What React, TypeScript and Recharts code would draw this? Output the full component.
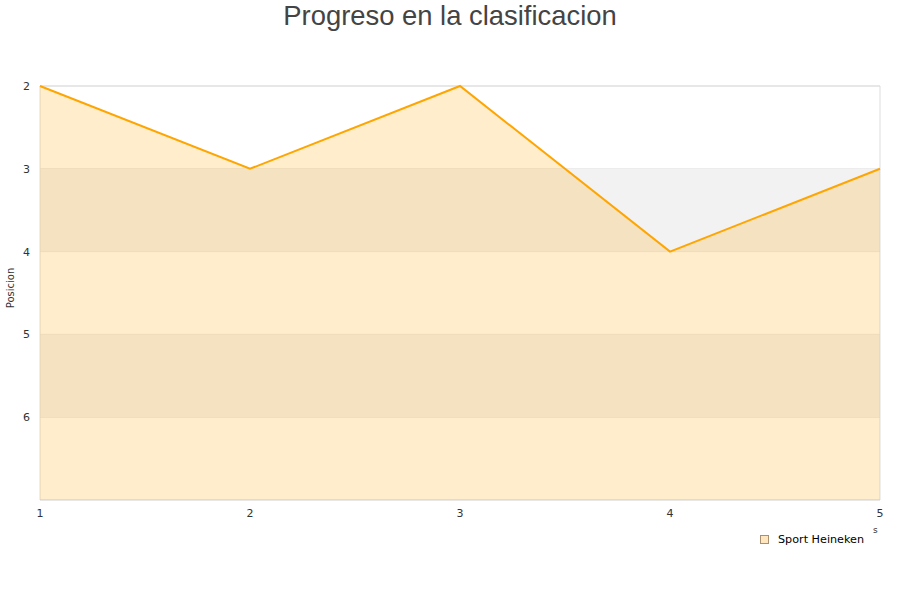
import React from 'react';
import { ComposedChart, Area, XAxis, YAxis, CartesianGrid, ReferenceArea } from 'recharts';

const jornadas = [1, 2, 3, 4, 5];
const posiciones = [2, 3, 2, 4, 3];
const yTicks = [2, 3, 4, 5, 6];
const bandas: [number, number][] = [[3, 4], [5, 6]];

const data = jornadas.map((j, i) => ({ jornada: j, pos: posiciones[i] }));

const tickFont = { fontFamily: 'DejaVu Sans', fontSize: 11, fill: '#333' };

export default function App() {
  return (
    <div style={{ position: 'absolute', left: 0, top: 0, width: 900, height: 600, background: '#fff' }}>
      <div style={{ position: 'absolute', left: 0, top: 0, width: 900, textAlign: 'center', fontFamily: 'Liberation Sans', fontSize: 27.4, color: '#444', lineHeight: '32px' }}>
        Progreso en la clasificacion
      </div>
      <ComposedChart width={900} height={600} data={data} margin={{ top: 86, right: 20, bottom: 70, left: 0 }}>
        {bandas.map(([a, b]) => (
          <ReferenceArea key={a} y1={a} y2={b} fill="#f2f2f2" fillOpacity={1} stroke="none" />
        ))}
        <CartesianGrid vertical={false} stroke="#e2e2e2" />
        <ReferenceArea x1={1} x2={5} y1={2} y2={7} fill="none" stroke="#dddddd" strokeWidth={1} />
        <XAxis dataKey="jornada" type="number" domain={[1, 5]} ticks={jornadas} tickLine={false} axisLine={false} tickSize={0} tickMargin={9} height={30} tick={tickFont} />
        <YAxis type="number" reversed domain={[2, 7]} ticks={yTicks} width={40} tickLine={false} axisLine={false} tickSize={0} tickMargin={10} tick={tickFont} label={{ value: 'Posicion', angle: -90, position: 'insideLeft', offset: 10, dy: -5, style: { fontFamily: 'DejaVu Sans', fontSize: 10, fill: '#333', textAnchor: 'middle' } }} />
        <Area type="linear" dataKey="pos" baseValue={7} stroke="#ffa500" strokeWidth={2} fill="#ffa500" fillOpacity={0.2} dot={false} activeDot={false} isAnimationActive={false} />
      </ComposedChart>
      <div style={{ position: 'absolute', left: 873, top: 525, fontFamily: 'DejaVu Sans', fontSize: 9, color: '#333' }}>s</div>
      <div style={{ position: 'absolute', left: 760, top: 533, display: 'flex', alignItems: 'center', fontFamily: 'DejaVu Sans', fontSize: 11.2, color: '#000' }}>
        <span style={{ display: 'inline-block', width: 7, height: 7, border: '1px solid #a89070', background: '#ffe6bf', marginRight: 9 }} />
        <span>Sport Heineken</span>
      </div>
    </div>
  );
}
